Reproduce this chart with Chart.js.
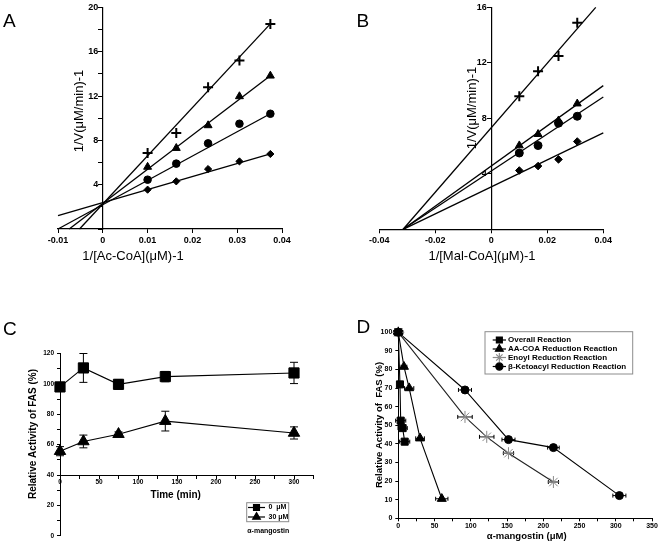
<!DOCTYPE html>
<html>
<head>
<meta charset="utf-8">
<title>FAS inhibition by alpha-mangostin</title>
<script src="https://cdn.jsdelivr.net/npm/chart.js@4.4.1/dist/chart.umd.min.js"></script>
<style>
  body { margin: 0; background: #fff; }
  #wrap { position: relative; width: 661px; height: 544px; overflow: hidden; }
  #wrap canvas { position: absolute; left: 0; top: 0; }
</style>
</head>
<body>
<div id="wrap">
  <canvas id="chartA" width="661" height="544"></canvas>
  <canvas id="chartB" width="661" height="544"></canvas>
  <canvas id="chartC" width="661" height="544"></canvas>
  <canvas id="chartD" width="661" height="544"></canvas>
</div>
<script>
// ---- panel A : double reciprocal, Ac-CoA varied ----
const acInvS = [0.01, 0.0164, 0.0235, 0.0305, 0.0374];
const acPlus = [6.86, 8.66, 12.8, 15.2, 18.5];
const acTri = [5.6, 7.3, 9.35, 11.97, 13.83];
const acCirc = [4.45, 5.9, 7.73, 9.5, 10.4];
const acDiam = [3.55, 4.3, 5.41, 6.1, 6.77];
// fitted lines as [start, end] pairs of [x, y]
const acFitPlus = [[-0.0052, 0], [0.0376, 18.6]];
const acFitTri = [[-0.0075, 0], [0.0376, 13.9]];
const acFitCirc = [[-0.01, 0], [0.0376, 10.45]];
const acFitDiam = [[-0.01, 1.2], [0.0376, 6.8]];

// ---- panel B : double reciprocal, Mal-CoA varied ----
const malInvS = [0.01, 0.0167, 0.024, 0.0307];
const malPlus = [9.6, 11.4, 12.5, 14.9];
const malTri = [6.04, 6.86, 7.84, 9.06];
const malCirc = [5.5, 6.04, 7.65, 8.15];
const malDiam = [4.24, 4.56, 5.04, 6.33];
const malFitPlus = [[-0.0315, 0], [0.0373, 16]];
const malFitTri = [[-0.0315, 0], [0.04, 10.36]];
const malFitCirc = [[-0.0315, 0], [0.04, 9.54]];
const malFitDiam = [[-0.0315, 0], [0.04, 6.95]];

// ---- panel C : activity vs time ----
const timeMin = [0, 30, 75, 135, 300];
const fas0 = [98, 110.5, 99.7, 104.8, 107.2];
const fas0Err = [3, 9.5, 3.2, 3.4, 7];
const fas30 = [55.7, 62.1, 66.9, 75.5, 67.7];
const fas30Err = [3, 4.2, 1.5, 6.5, 4];
const timeLegend = ['0  \u03bcM', '30 \u03bcM'];

// ---- panel D : activity vs alpha-mangostin ----
const overallDose = [0, 2.3, 3.3, 6, 8.8];
const overallAct = [100, 72, 52.5, 48.5, 41.2];
const overallErr = [6, 3.4, 7, 6.4, 7];
const aacoaDose = [0, 7.8, 15, 30, 60];
const aacoaAct = [100, 81.5, 70, 43, 10.5];
const aacoaErr = [6, 4, 6.4, 6, 8.5];
const enoylDose = [0, 92, 122, 152, 214];
const enoylAct = [100, 54.5, 43.8, 35, 19.5];
const enoylErr = [6, 10, 10, 7, 7];
const ketoDose = [0, 92, 152, 214, 305];
const ketoAct = [100, 69, 42.3, 38, 12.2];
const ketoErr = [6, 9, 9, 8, 9];
const doseLegend = ['Overall Reaction', 'AA-COA Reduction Reaction', 'Enoyl Reduction Reaction', '\u03b2-Ketoacyl Reduction Reaction'];

const FONT = '"Liberation Sans", Arial, Helvetica, sans-serif';
Chart.defaults.font.family = FONT;
Chart.defaults.color = '#000';
Chart.defaults.animation = false;

const pts = (xs, ys) => xs.map((x, i) => ({x: x, y: ys[i]}));
const seg = pair => pair.map(p => ({x: p[0], y: p[1]}));
const fmtDec = v => Math.abs(v) < 1e-9 ? '0' : String(Math.round(v * 100) / 100);

function fitLine(pair) {
  return { data: seg(pair), showLine: true, pointRadius: 0, borderColor: '#000', borderWidth: 1.3, clip: false };
}
function marks(xs, ys, style, r, extra) {
  return Object.assign({
    data: pts(xs, ys), showLine: false, pointStyle: style, pointRadius: r,
    backgroundColor: '#000', borderColor: '#000', borderWidth: 1, clip: false
  }, extra || {});
}
function series(xs, ys, style, r, extra) {
  return Object.assign({
    data: pts(xs, ys), showLine: true, borderColor: '#000', borderWidth: 1.1,
    pointStyle: style, pointRadius: r, pointBackgroundColor: '#000', pointBorderColor: '#000',
    pointBorderWidth: 1, clip: false
  }, extra || {});
}
function linAxis(o) {
  return {
    type: 'linear', min: o.min, max: o.max, position: o.position, afterFit: o.fit,
    ticks: {
      stepSize: o.step, autoSkip: false, maxRotation: 0, minRotation: 0, padding: o.pad === undefined ? 2 : o.pad,
      color: '#000', font: { size: o.font, weight: 'bold' }, callback: o.label
    },
    grid: { drawOnChartArea: false, drawTicks: true, tickLength: o.tick === undefined ? 4 : o.tick, tickColor: '#000', tickWidth: 1 },
    border: { display: true, color: '#000', width: o.bw === undefined ? 1.2 : o.bw }
  };
}

// free text (panel letters, axis titles)
function textLayer(items) {
  return {
    id: 'textLayer',
    afterDraw(chart) {
      const ctx = chart.ctx;
      items.forEach(it => {
        ctx.save();
        ctx.font = it.font;
        ctx.fillStyle = '#000';
        ctx.textAlign = it.align || 'center';
        ctx.textBaseline = it.base || 'middle';
        ctx.translate(it.x, it.y);
        if (it.rot) ctx.rotate(it.rot * Math.PI / 180);
        ctx.fillText(it.t, 0, 0);
        ctx.restore();
      });
    }
  };
}

// boxed legend drawn from the datasets' own styles
function legendLayer(box, rows) {
  return {
    id: 'legendLayer',
    afterDraw(chart) {
      const ctx = chart.ctx;
      ctx.save();
      ctx.strokeStyle = '#8c8c8c';
      ctx.lineWidth = 1;
      ctx.strokeRect(box.x, box.y, box.w, box.h);
      rows.forEach(r => {
        const ds = chart.data.datasets[r.ds];
        ctx.strokeStyle = r.line || ds.borderColor;
        ctx.lineWidth = 1.2;
        ctx.beginPath();
        ctx.moveTo(box.lx0, r.y);
        ctx.lineTo(box.lx1, r.y);
        ctx.stroke();
        ctx.fillStyle = ds.pointBackgroundColor;
        ctx.strokeStyle = ds.pointBorderColor;
        Chart.helpers.drawPoint(ctx, { pointStyle: ds.pointStyle, radius: r.r, borderWidth: 1, rotation: 0 }, (box.lx0 + box.lx1) / 2, r.y);
        ctx.fillStyle = '#000';
        ctx.font = box.font;
        ctx.textAlign = 'left';
        ctx.textBaseline = 'middle';
        ctx.fillText(r.t, box.tx, r.y);
      });
      ctx.restore();
    }
  };
}

// vertical (errY) or horizontal (errX) error bars
const errorBars = {
  id: 'errorBars',
  beforeDatasetsDraw(chart) {
    const ctx = chart.ctx, xs = chart.scales.x, ys = chart.scales.y;
    ctx.save();
    ctx.strokeStyle = '#000';
    ctx.lineWidth = 1;
    chart.data.datasets.forEach(ds => {
      ds.data.forEach((p, i) => {
        const px = xs.getPixelForValue(p.x), py = ys.getPixelForValue(p.y);
        ctx.beginPath();
        if (ds.errY) {
          const t = ys.getPixelForValue(p.y + ds.errY[i]), b = ys.getPixelForValue(p.y - ds.errY[i]);
          ctx.moveTo(px, t); ctx.lineTo(px, b);
          ctx.moveTo(px - 4, t); ctx.lineTo(px + 4, t);
          ctx.moveTo(px - 4, b); ctx.lineTo(px + 4, b);
        }
        if (ds.errX) {
          const l = xs.getPixelForValue(p.x - ds.errX[i]), r = xs.getPixelForValue(p.x + ds.errX[i]);
          ctx.moveTo(l, py); ctx.lineTo(r, py);
          ctx.moveTo(l, py - 2); ctx.lineTo(l, py + 2);
          ctx.moveTo(r, py - 2); ctx.lineTo(r, py + 2);
        }
        ctx.stroke();
      });
    });
    ctx.restore();
  }
};

const baseOpts = { responsive: false, animation: false, events: [],
  plugins: { legend: { display: false }, tooltip: { enabled: false } } };

// ---------- A ----------
new Chart(document.getElementById('chartA'), {
  type: 'scatter',
  data: { datasets: [
    fitLine(acFitPlus), fitLine(acFitTri), fitLine(acFitCirc), fitLine(acFitDiam),
    marks(acInvS, acPlus, 'cross', 5, { borderWidth: 2 }),
    marks(acInvS, acTri, 'triangle', 4.6),
    marks(acInvS, acCirc, 'circle', 3.8),
    marks(acInvS, acDiam, 'rectRot', 3.6)
  ] },
  options: Object.assign({}, baseOpts, {
    layout: { padding: { left: 58, right: 379, top: 7.3, bottom: 0 } },
    scales: {
      x: linAxis({ min: -0.01, max: 0.04, step: 0.01, position: 'bottom', font: 9, label: fmtDec,
        fit: s => { s.height = 315; } }),
      y: linAxis({ min: 0, max: 20, step: 2, position: { x: 0 }, font: 9,
        label: v => (v > 0 && v % 4 === 0) ? String(v) + '\u2002' : '' })
    }
  }),
  plugins: [textLayer([
    { t: 'A', x: 3, y: 26.7, font: '19px ' + FONT, align: 'left', base: 'alphabetic' },
    { t: '1/V(\u03bcM/min)-1', x: 79, y: 111, font: '13px ' + FONT, rot: -90 },
    { t: '1/[Ac-CoA](\u03bcM)-1', x: 133, y: 256, font: '13px ' + FONT }
  ])]
});

// ---------- B ----------
new Chart(document.getElementById('chartB'), {
  type: 'scatter',
  data: { datasets: [
    fitLine(malFitPlus), fitLine(malFitTri), fitLine(malFitCirc), fitLine(malFitDiam),
    marks(malInvS, malPlus, 'cross', 5, { borderWidth: 2 }),
    marks(malInvS, malTri, 'triangle', 4.6),
    marks(malInvS, malCirc, 'circle', 4),
    marks(malInvS, malDiam, 'rectRot', 3.8)
  ] },
  options: Object.assign({}, baseOpts, {
    layout: { padding: { left: 379.3, right: 57.7, top: 6.7, bottom: 0 } },
    scales: {
      x: linAxis({ min: -0.04, max: 0.04, step: 0.02, position: 'bottom', font: 9, label: fmtDec,
        fit: s => { s.height = 314.7; } }),
      y: linAxis({ min: 0, max: 16, step: 4, position: { x: 0 }, font: 9,
        label: v => v > 0 ? String(v) + '\u2002' : '' })
    }
  }),
  plugins: [textLayer([
    { t: 'B', x: 356.5, y: 26.7, font: '19px ' + FONT, align: 'left', base: 'alphabetic' },
    { t: '1/V(\u03bcM/min)-1', x: 472, y: 108, font: '13px ' + FONT, rot: -90 },
    { t: '1/[Mal-CoA](\u03bcM)-1', x: 482, y: 256.5, font: '13px ' + FONT }
  ])]
});

// ---------- C ----------
new Chart(document.getElementById('chartC'), {
  type: 'scatter',
  data: { datasets: [
    series(timeMin, fas0, 'rect', 7.2, { errY: fas0Err }),
    series(timeMin, fas30, 'triangle', 6.6, { errY: fas30Err })
  ] },
  options: Object.assign({}, baseOpts, {
    layout: { padding: { left: 0, right: 347.5, top: 353.5, bottom: 5.5 } },
    scales: {
      x: linAxis({ min: 0, max: 325, step: 25, position: { y: 40 }, font: 6.5, tick: 3, pad: 0, bw: 1,
        label: v => v % 50 === 0 ? String(v) : '' }),
      y: linAxis({ min: 0, max: 120, step: 10, position: 'left', font: 6.5, tick: 3, pad: 3, bw: 1,
        label: v => v % 20 === 0 ? String(v) : '', fit: s => { s.width = 60; } })
    }
  }),
  plugins: [errorBars,
    legendLayer({ x: 246.7, y: 502.7, w: 42, h: 19, lx0: 248, lx1: 265, tx: 268.5, font: 'bold 7px ' + FONT }, [
      { ds: 0, y: 507.5, r: 4.2, t: timeLegend[0] },
      { ds: 1, y: 517, r: 4.4, t: timeLegend[1] }
    ]),
    textLayer([
      { t: 'C', x: 3, y: 335, font: '19px ' + FONT, align: 'left', base: 'alphabetic' },
      { t: 'Relative Activity of FAS (%)', x: 33, y: 434, font: 'bold 10px ' + FONT, rot: -90 },
      { t: 'Time (min)', x: 175.7, y: 495.7, font: 'bold 10px ' + FONT },
      { t: '\u03b1-mangostin', x: 268.3, y: 530.7, font: 'bold 7px ' + FONT }
    ])]
});

// ---------- D ----------
new Chart(document.getElementById('chartD'), {
  type: 'scatter',
  data: { datasets: [
    series(overallDose, overallAct, 'rect', 5, { errX: overallErr }),
    series(aacoaDose, aacoaAct, 'triangle', 5.2, { errX: aacoaErr }),
    series(enoylDose, enoylAct, 'star', 6, { errX: enoylErr, borderColor: '#222', pointBorderColor: '#8a8a8a', pointBackgroundColor: '#8a8a8a' }),
    series(ketoDose, ketoAct, 'circle', 4, { errX: ketoErr })
  ] },
  options: Object.assign({}, baseOpts, {
    layout: { padding: { left: 330, right: 9, top: 332.3, bottom: 0 } },
    scales: {
      x: linAxis({ min: 0, max: 350, step: 25, position: 'bottom', font: 7, tick: 3, pad: 1, bw: 1,
        label: v => v % 50 === 0 ? String(v) : '', fit: s => { s.height = 25.7; } }),
      y: linAxis({ min: 0, max: 100, step: 10, position: 'left', font: 7, tick: 3, pad: 3, bw: 1,
        label: v => String(v), fit: s => { s.width = 68.3; } })
    }
  }),
  plugins: [errorBars,
    legendLayer({ x: 485, y: 331.7, w: 147.7, h: 42.3, lx0: 492.7, lx1: 506, tx: 508, font: 'bold 8px ' + FONT }, [
      { ds: 0, y: 340, r: 4.2, t: doseLegend[0] },
      { ds: 1, y: 349, r: 4.5, t: doseLegend[1] },
      { ds: 2, y: 357.5, r: 4.5, t: doseLegend[2], line: '#8a8a8a' },
      { ds: 3, y: 366.5, r: 3.6, t: doseLegend[3] }
    ]),
    textLayer([
      { t: 'D', x: 356.5, y: 333.3, font: '19px ' + FONT, align: 'left', base: 'alphabetic' },
      { t: 'Relative Activity of  FAS (%)', x: 379.3, y: 425, font: 'bold 9.5px ' + FONT, rot: -90 },
      { t: '\u03b1-mangostin (\u03bcM)', x: 526.7, y: 536, font: 'bold 9.5px ' + FONT }
    ])]
});
</script>
</body>
</html>
